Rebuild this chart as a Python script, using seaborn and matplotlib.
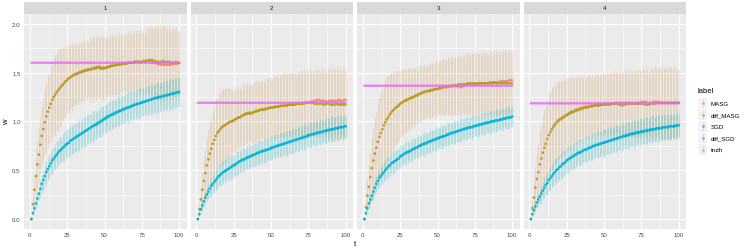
import matplotlib
matplotlib.use("Agg")
import matplotlib.pyplot as plt
import matplotlib.patches as mpatches
import pandas as pd
import seaborn as sns

t = list(range(1, 101))
panels = ["1", "2", "3", "4"]
labels = ["MASG", "diff_MASG", "SGD", "diff_SGD", "truth"]
colors = ["#F8766D", "#A3A500", "#00BF7D", "#00B0F6", "#E76BF3"]
truth = [1.60, 1.19, 1.365, 1.185]

# ---- panel 1 ----
masg_1 = [
    0.00, 0.155, 0.30, 0.44, 0.56, 0.66, 0.76, 0.85, 0.92, 0.99,
    1.05, 1.10, 1.14, 1.18, 1.22, 1.25, 1.28, 1.30, 1.32, 1.34,
    1.36, 1.38, 1.40, 1.41, 1.43, 1.44, 1.45, 1.46, 1.47, 1.48,
    1.49, 1.49, 1.50, 1.51, 1.51, 1.52, 1.52, 1.53, 1.53, 1.53,
    1.54, 1.54, 1.55, 1.55, 1.56, 1.56, 1.56, 1.55, 1.55, 1.55,
    1.55, 1.56, 1.56, 1.57, 1.57, 1.57, 1.58, 1.58, 1.58, 1.59,
    1.59, 1.59, 1.59, 1.59, 1.60, 1.60, 1.60, 1.60, 1.60, 1.61,
    1.61, 1.61, 1.61, 1.60, 1.61, 1.61, 1.61, 1.61, 1.62, 1.62,
    1.61, 1.61, 1.60, 1.60, 1.59, 1.59, 1.58, 1.58, 1.58, 1.58,
    1.58, 1.58, 1.58, 1.58, 1.58, 1.59, 1.59, 1.59, 1.59, 1.60]
diff_masg_1 = [
    0.00, 0.15, 0.30, 0.44, 0.56, 0.66, 0.76, 0.85, 0.92, 0.99,
    1.05, 1.10, 1.14, 1.18, 1.22, 1.25, 1.27, 1.30, 1.32, 1.34,
    1.36, 1.37, 1.39, 1.41, 1.42, 1.44, 1.45, 1.46, 1.47, 1.48,
    1.48, 1.49, 1.50, 1.50, 1.51, 1.51, 1.52, 1.52, 1.53, 1.53,
    1.53, 1.54, 1.54, 1.54, 1.55, 1.55, 1.54, 1.54, 1.54, 1.54,
    1.55, 1.55, 1.56, 1.56, 1.57, 1.57, 1.57, 1.58, 1.58, 1.58,
    1.58, 1.59, 1.59, 1.59, 1.59, 1.60, 1.60, 1.60, 1.60, 1.61,
    1.61, 1.61, 1.61, 1.61, 1.61, 1.62, 1.62, 1.62, 1.62, 1.63,
    1.63, 1.63, 1.62, 1.62, 1.61, 1.61, 1.61, 1.61, 1.62, 1.61,
    1.61, 1.61, 1.61, 1.61, 1.60, 1.60, 1.60, 1.61, 1.60, 1.60]
sgd_1 = [
    0.00, 0.06, 0.11, 0.16, 0.21, 0.26, 0.31, 0.36, 0.40, 0.44,
    0.48, 0.51, 0.54, 0.57, 0.60, 0.62, 0.64, 0.66, 0.68, 0.70,
    0.71, 0.73, 0.74, 0.76, 0.77, 0.78, 0.80, 0.81, 0.82, 0.83,
    0.84, 0.85, 0.86, 0.87, 0.88, 0.89, 0.90, 0.91, 0.92, 0.93,
    0.94, 0.95, 0.96, 0.97, 0.98, 0.99, 1.00, 1.01, 1.02, 1.03,
    1.04, 1.05, 1.06, 1.06, 1.07, 1.08, 1.09, 1.09, 1.10, 1.11,
    1.11, 1.12, 1.13, 1.13, 1.14, 1.14, 1.15, 1.16, 1.16, 1.17,
    1.17, 1.18, 1.18, 1.19, 1.19, 1.20, 1.20, 1.21, 1.21, 1.22,
    1.22, 1.23, 1.23, 1.24, 1.24, 1.24, 1.25, 1.25, 1.26, 1.26,
    1.26, 1.27, 1.27, 1.28, 1.28, 1.28, 1.29, 1.29, 1.30, 1.30]
diff_sgd_1 = [
    0.00, 0.06, 0.11, 0.16, 0.21, 0.26, 0.31, 0.36, 0.40, 0.44,
    0.48, 0.51, 0.54, 0.57, 0.60, 0.62, 0.64, 0.66, 0.68, 0.70,
    0.71, 0.73, 0.74, 0.76, 0.77, 0.78, 0.80, 0.81, 0.82, 0.83,
    0.84, 0.85, 0.86, 0.87, 0.88, 0.89, 0.90, 0.91, 0.92, 0.93,
    0.94, 0.95, 0.96, 0.96, 0.97, 0.98, 0.99, 1.00, 1.01, 1.02,
    1.03, 1.04, 1.05, 1.06, 1.07, 1.07, 1.08, 1.09, 1.10, 1.10,
    1.11, 1.12, 1.12, 1.13, 1.14, 1.14, 1.15, 1.15, 1.16, 1.17,
    1.17, 1.18, 1.18, 1.19, 1.19, 1.20, 1.20, 1.21, 1.21, 1.22,
    1.22, 1.23, 1.23, 1.24, 1.24, 1.25, 1.25, 1.25, 1.26, 1.26,
    1.27, 1.27, 1.27, 1.28, 1.28, 1.29, 1.29, 1.29, 1.30, 1.30]
masg_sd_1 = [
    0.00, 0.08, 0.13, 0.19, 0.24, 0.27, 0.29, 0.31, 0.32, 0.33,
    0.35, 0.37, 0.36, 0.39, 0.38, 0.40, 0.41, 0.39, 0.42, 0.41,
    0.40, 0.38, 0.36, 0.37, 0.33, 0.35, 0.32, 0.34, 0.31, 0.33,
    0.30, 0.32, 0.29, 0.31, 0.30, 0.32, 0.28, 0.31, 0.29, 0.33,
    0.30, 0.34, 0.31, 0.33, 0.29, 0.32, 0.30, 0.34, 0.31, 0.33,
    0.29, 0.31, 0.28, 0.32, 0.30, 0.33, 0.29, 0.31, 0.30, 0.32,
    0.28, 0.30, 0.27, 0.31, 0.29, 0.33, 0.30, 0.32, 0.28, 0.31,
    0.29, 0.33, 0.31, 0.34, 0.30, 0.33, 0.29, 0.32, 0.35, 0.33,
    0.36, 0.34, 0.37, 0.35, 0.38, 0.36, 0.39, 0.37, 0.40, 0.38,
    0.36, 0.37, 0.35, 0.38, 0.34, 0.37, 0.35, 0.36, 0.34, 0.33]
sgd_sd_1 = [
    0.00, 0.02, 0.04, 0.05, 0.06, 0.07, 0.08, 0.09, 0.10, 0.10,
    0.11, 0.11, 0.12, 0.12, 0.13, 0.12, 0.13, 0.14, 0.13, 0.14,
    0.13, 0.14, 0.15, 0.14, 0.15, 0.14, 0.15, 0.14, 0.15, 0.14,
    0.15, 0.14, 0.16, 0.14, 0.15, 0.14, 0.16, 0.15, 0.14, 0.15,
    0.14, 0.16, 0.15, 0.14, 0.15, 0.14, 0.16, 0.15, 0.14, 0.15,
    0.14, 0.15, 0.14, 0.16, 0.15, 0.14, 0.15, 0.14, 0.16, 0.15,
    0.14, 0.15, 0.14, 0.15, 0.14, 0.16, 0.15, 0.14, 0.15, 0.14,
    0.15, 0.14, 0.16, 0.15, 0.14, 0.15, 0.14, 0.15, 0.16, 0.14,
    0.15, 0.14, 0.15, 0.14, 0.16, 0.15, 0.14, 0.15, 0.14, 0.15,
    0.14, 0.15, 0.14, 0.16, 0.15, 0.14, 0.15, 0.14, 0.15, 0.14]

# ---- panel 2 ----
masg_2 = [
    0.00, 0.10, 0.20, 0.30, 0.39, 0.47, 0.55, 0.61, 0.67, 0.72,
    0.77, 0.81, 0.85, 0.88, 0.90, 0.92, 0.94, 0.95, 0.96, 0.97,
    0.98, 0.99, 1.00, 1.00, 1.01, 1.02, 1.03, 1.04, 1.04, 1.05,
    1.06, 1.07, 1.07, 1.08, 1.09, 1.09, 1.09, 1.09, 1.10, 1.10,
    1.11, 1.11, 1.12, 1.12, 1.12, 1.13, 1.13, 1.13, 1.14, 1.14,
    1.14, 1.15, 1.15, 1.15, 1.15, 1.16, 1.16, 1.16, 1.16, 1.17,
    1.17, 1.17, 1.17, 1.17, 1.18, 1.18, 1.18, 1.18, 1.18, 1.18,
    1.19, 1.19, 1.19, 1.19, 1.19, 1.20, 1.20, 1.20, 1.21, 1.21,
    1.22, 1.22, 1.21, 1.21, 1.21, 1.21, 1.20, 1.20, 1.21, 1.21,
    1.21, 1.21, 1.21, 1.21, 1.22, 1.22, 1.21, 1.21, 1.22, 1.22]
diff_masg_2 = [
    0.00, 0.10, 0.20, 0.30, 0.39, 0.47, 0.55, 0.61, 0.67, 0.72,
    0.77, 0.81, 0.85, 0.88, 0.90, 0.92, 0.94, 0.95, 0.96, 0.97,
    0.98, 0.99, 1.00, 1.00, 1.01, 1.02, 1.03, 1.04, 1.04, 1.05,
    1.06, 1.07, 1.08, 1.08, 1.08, 1.08, 1.08, 1.09, 1.10, 1.10,
    1.11, 1.11, 1.12, 1.12, 1.12, 1.12, 1.13, 1.13, 1.14, 1.14,
    1.14, 1.14, 1.15, 1.15, 1.15, 1.15, 1.16, 1.16, 1.16, 1.16,
    1.16, 1.17, 1.17, 1.17, 1.17, 1.17, 1.18, 1.18, 1.18, 1.18,
    1.18, 1.18, 1.19, 1.19, 1.19, 1.19, 1.19, 1.19, 1.18, 1.18,
    1.18, 1.18, 1.18, 1.18, 1.17, 1.17, 1.18, 1.18, 1.18, 1.17,
    1.17, 1.17, 1.17, 1.18, 1.17, 1.17, 1.17, 1.17, 1.17, 1.17]
sgd_2 = [
    0.00, 0.05, 0.10, 0.14, 0.18, 0.22, 0.25, 0.28, 0.31, 0.34,
    0.36, 0.38, 0.40, 0.42, 0.44, 0.45, 0.47, 0.48, 0.49, 0.50,
    0.51, 0.52, 0.53, 0.54, 0.55, 0.56, 0.57, 0.58, 0.59, 0.60,
    0.61, 0.61, 0.62, 0.63, 0.64, 0.64, 0.65, 0.66, 0.66, 0.67,
    0.68, 0.68, 0.69, 0.69, 0.70, 0.70, 0.71, 0.71, 0.72, 0.73,
    0.73, 0.74, 0.74, 0.75, 0.75, 0.76, 0.76, 0.77, 0.77, 0.78,
    0.78, 0.79, 0.79, 0.80, 0.80, 0.81, 0.81, 0.82, 0.82, 0.83,
    0.83, 0.84, 0.84, 0.85, 0.86, 0.86, 0.87, 0.87, 0.87, 0.88,
    0.88, 0.89, 0.89, 0.89, 0.90, 0.90, 0.91, 0.91, 0.91, 0.92,
    0.92, 0.92, 0.93, 0.93, 0.93, 0.94, 0.94, 0.94, 0.95, 0.95]
diff_sgd_2 = [
    0.00, 0.05, 0.10, 0.14, 0.18, 0.22, 0.25, 0.28, 0.31, 0.34,
    0.36, 0.38, 0.40, 0.42, 0.44, 0.45, 0.47, 0.48, 0.49, 0.50,
    0.51, 0.52, 0.53, 0.54, 0.55, 0.56, 0.57, 0.58, 0.59, 0.60,
    0.60, 0.61, 0.62, 0.63, 0.63, 0.64, 0.65, 0.65, 0.66, 0.67,
    0.67, 0.68, 0.69, 0.69, 0.70, 0.70, 0.71, 0.71, 0.72, 0.72,
    0.73, 0.74, 0.74, 0.75, 0.75, 0.76, 0.76, 0.77, 0.77, 0.78,
    0.78, 0.79, 0.79, 0.80, 0.80, 0.81, 0.81, 0.82, 0.82, 0.83,
    0.83, 0.84, 0.84, 0.85, 0.85, 0.86, 0.86, 0.87, 0.87, 0.88,
    0.88, 0.88, 0.89, 0.89, 0.90, 0.90, 0.90, 0.91, 0.91, 0.92,
    0.92, 0.92, 0.93, 0.93, 0.93, 0.94, 0.94, 0.94, 0.95, 0.95]
masg_sd_2 = [
    0.00, 0.07, 0.13, 0.18, 0.22, 0.25, 0.28, 0.30, 0.31, 0.32,
    0.34, 0.35, 0.37, 0.36, 0.38, 0.37, 0.39, 0.38, 0.37, 0.38,
    0.36, 0.35, 0.33, 0.32, 0.31, 0.33, 0.30, 0.32, 0.29, 0.31,
    0.30, 0.32, 0.29, 0.31, 0.28, 0.30, 0.29, 0.31, 0.30, 0.32,
    0.29, 0.31, 0.28, 0.30, 0.29, 0.31, 0.30, 0.32, 0.29, 0.31,
    0.30, 0.32, 0.31, 0.33, 0.30, 0.32, 0.31, 0.33, 0.32, 0.34,
    0.31, 0.33, 0.32, 0.34, 0.31, 0.33, 0.30, 0.33, 0.32, 0.35,
    0.33, 0.35, 0.32, 0.34, 0.33, 0.35, 0.32, 0.34, 0.33, 0.36,
    0.34, 0.35, 0.33, 0.36, 0.34, 0.35, 0.33, 0.36, 0.34, 0.37,
    0.35, 0.36, 0.34, 0.37, 0.35, 0.36, 0.34, 0.37, 0.35, 0.36]
sgd_sd_2 = [
    0.00, 0.02, 0.03, 0.04, 0.05, 0.06, 0.07, 0.08, 0.08, 0.09,
    0.09, 0.10, 0.10, 0.11, 0.10, 0.11, 0.12, 0.11, 0.12, 0.11,
    0.12, 0.11, 0.13, 0.12, 0.11, 0.12, 0.13, 0.12, 0.11, 0.12,
    0.13, 0.12, 0.11, 0.12, 0.13, 0.12, 0.11, 0.13, 0.12, 0.11,
    0.12, 0.13, 0.12, 0.11, 0.12, 0.13, 0.12, 0.11, 0.12, 0.13,
    0.12, 0.11, 0.13, 0.12, 0.11, 0.12, 0.13, 0.12, 0.11, 0.12,
    0.13, 0.12, 0.11, 0.12, 0.13, 0.12, 0.11, 0.13, 0.12, 0.11,
    0.12, 0.13, 0.12, 0.11, 0.12, 0.13, 0.12, 0.11, 0.12, 0.13,
    0.12, 0.11, 0.13, 0.12, 0.11, 0.12, 0.13, 0.12, 0.11, 0.12,
    0.13, 0.12, 0.11, 0.12, 0.13, 0.12, 0.11, 0.13, 0.12, 0.12]

# ---- panel 3 ----
masg_3 = [
    0.00, 0.12, 0.24, 0.33, 0.43, 0.52, 0.60, 0.67, 0.73, 0.79,
    0.84, 0.88, 0.92, 0.96, 0.99, 1.02, 1.04, 1.07, 1.09, 1.11,
    1.13, 1.14, 1.15, 1.17, 1.18, 1.19, 1.20, 1.21, 1.22, 1.23,
    1.23, 1.24, 1.25, 1.25, 1.26, 1.27, 1.28, 1.28, 1.29, 1.30,
    1.30, 1.31, 1.31, 1.31, 1.32, 1.32, 1.32, 1.33, 1.33, 1.33,
    1.34, 1.34, 1.34, 1.35, 1.35, 1.35, 1.35, 1.36, 1.36, 1.36,
    1.36, 1.36, 1.36, 1.36, 1.35, 1.35, 1.36, 1.37, 1.37, 1.38,
    1.38, 1.38, 1.38, 1.38, 1.38, 1.38, 1.38, 1.39, 1.39, 1.39,
    1.39, 1.39, 1.39, 1.39, 1.40, 1.40, 1.40, 1.40, 1.40, 1.40,
    1.40, 1.41, 1.41, 1.41, 1.41, 1.41, 1.41, 1.42, 1.42, 1.42]
diff_masg_3 = [
    0.00, 0.12, 0.24, 0.33, 0.43, 0.52, 0.60, 0.67, 0.73, 0.79,
    0.84, 0.88, 0.92, 0.96, 0.99, 1.02, 1.04, 1.07, 1.09, 1.11,
    1.12, 1.14, 1.15, 1.16, 1.18, 1.19, 1.20, 1.21, 1.21, 1.22,
    1.23, 1.24, 1.24, 1.25, 1.26, 1.26, 1.27, 1.28, 1.29, 1.29,
    1.30, 1.30, 1.31, 1.31, 1.31, 1.32, 1.32, 1.33, 1.33, 1.33,
    1.34, 1.34, 1.35, 1.35, 1.35, 1.36, 1.36, 1.36, 1.36, 1.37,
    1.37, 1.37, 1.37, 1.38, 1.38, 1.38, 1.38, 1.38, 1.38, 1.39,
    1.39, 1.39, 1.39, 1.39, 1.39, 1.39, 1.39, 1.39, 1.39, 1.39,
    1.39, 1.39, 1.39, 1.39, 1.39, 1.39, 1.39, 1.40, 1.39, 1.39,
    1.39, 1.39, 1.39, 1.39, 1.39, 1.39, 1.39, 1.39, 1.39, 1.39]
sgd_3 = [
    0.00, 0.06, 0.11, 0.16, 0.20, 0.24, 0.28, 0.32, 0.36, 0.39,
    0.42, 0.44, 0.46, 0.48, 0.50, 0.52, 0.54, 0.55, 0.57, 0.58,
    0.59, 0.60, 0.61, 0.62, 0.64, 0.65, 0.66, 0.67, 0.68, 0.69,
    0.69, 0.70, 0.71, 0.72, 0.73, 0.73, 0.74, 0.75, 0.76, 0.77,
    0.77, 0.78, 0.78, 0.79, 0.80, 0.80, 0.81, 0.81, 0.82, 0.83,
    0.83, 0.84, 0.84, 0.85, 0.85, 0.86, 0.87, 0.87, 0.88, 0.88,
    0.89, 0.89, 0.90, 0.90, 0.91, 0.91, 0.92, 0.92, 0.93, 0.93,
    0.94, 0.94, 0.94, 0.95, 0.95, 0.96, 0.96, 0.97, 0.97, 0.97,
    0.98, 0.98, 0.99, 0.99, 0.99, 1.00, 1.00, 1.00, 1.01, 1.01,
    1.01, 1.02, 1.02, 1.03, 1.03, 1.03, 1.04, 1.04, 1.04, 1.05]
diff_sgd_3 = [
    0.00, 0.06, 0.11, 0.16, 0.20, 0.24, 0.28, 0.32, 0.36, 0.39,
    0.42, 0.44, 0.46, 0.48, 0.50, 0.52, 0.54, 0.55, 0.57, 0.58,
    0.59, 0.60, 0.61, 0.62, 0.64, 0.65, 0.66, 0.67, 0.68, 0.68,
    0.69, 0.70, 0.71, 0.72, 0.72, 0.73, 0.74, 0.75, 0.75, 0.76,
    0.77, 0.77, 0.78, 0.79, 0.79, 0.80, 0.81, 0.81, 0.82, 0.82,
    0.83, 0.84, 0.84, 0.85, 0.85, 0.86, 0.86, 0.87, 0.88, 0.88,
    0.89, 0.89, 0.90, 0.90, 0.91, 0.91, 0.92, 0.92, 0.93, 0.93,
    0.93, 0.94, 0.94, 0.95, 0.95, 0.96, 0.96, 0.96, 0.97, 0.97,
    0.98, 0.98, 0.98, 0.99, 0.99, 1.00, 1.00, 1.00, 1.01, 1.01,
    1.01, 1.02, 1.02, 1.02, 1.03, 1.03, 1.04, 1.04, 1.04, 1.05]
masg_sd_3 = [
    0.00, 0.09, 0.16, 0.22, 0.27, 0.31, 0.34, 0.36, 0.38, 0.40,
    0.41, 0.42, 0.43, 0.42, 0.44, 0.43, 0.42, 0.41, 0.42, 0.40,
    0.39, 0.38, 0.37, 0.36, 0.35, 0.34, 0.34, 0.33, 0.32, 0.33,
    0.31, 0.32, 0.30, 0.31, 0.29, 0.30, 0.28, 0.30, 0.29, 0.28,
    0.29, 0.27, 0.28, 0.27, 0.29, 0.28, 0.27, 0.28, 0.29, 0.27,
    0.28, 0.29, 0.28, 0.30, 0.29, 0.28, 0.30, 0.29, 0.31, 0.30,
    0.29, 0.31, 0.30, 0.32, 0.30, 0.31, 0.29, 0.31, 0.30, 0.32,
    0.31, 0.30, 0.32, 0.31, 0.33, 0.31, 0.32, 0.30, 0.32, 0.31,
    0.33, 0.31, 0.32, 0.30, 0.33, 0.32, 0.31, 0.33, 0.32, 0.34,
    0.32, 0.33, 0.31, 0.34, 0.32, 0.33, 0.31, 0.33, 0.32, 0.31]
sgd_sd_3 = [
    0.00, 0.02, 0.03, 0.04, 0.05, 0.06, 0.07, 0.07, 0.08, 0.08,
    0.09, 0.09, 0.10, 0.09, 0.10, 0.11, 0.10, 0.11, 0.10, 0.11,
    0.12, 0.11, 0.10, 0.11, 0.12, 0.11, 0.10, 0.11, 0.12, 0.11,
    0.10, 0.11, 0.12, 0.11, 0.10, 0.11, 0.12, 0.11, 0.10, 0.11,
    0.12, 0.11, 0.10, 0.11, 0.12, 0.11, 0.10, 0.11, 0.12, 0.11,
    0.10, 0.11, 0.12, 0.11, 0.10, 0.11, 0.12, 0.11, 0.10, 0.11,
    0.12, 0.11, 0.10, 0.11, 0.12, 0.11, 0.10, 0.11, 0.12, 0.11,
    0.10, 0.11, 0.12, 0.11, 0.10, 0.11, 0.12, 0.11, 0.10, 0.11,
    0.12, 0.11, 0.10, 0.11, 0.12, 0.11, 0.10, 0.11, 0.12, 0.11,
    0.10, 0.11, 0.12, 0.11, 0.10, 0.11, 0.12, 0.11, 0.10, 0.11]

# ---- panel 4 ----
masg_4 = [
    0.00, 0.11, 0.22, 0.32, 0.41, 0.48, 0.56, 0.62, 0.68, 0.73,
    0.77, 0.82, 0.86, 0.89, 0.92, 0.95, 0.97, 0.99, 1.01, 1.02,
    1.03, 1.04, 1.05, 1.06, 1.07, 1.08, 1.09, 1.10, 1.10, 1.11,
    1.12, 1.12, 1.13, 1.13, 1.14, 1.14, 1.15, 1.15, 1.15, 1.16,
    1.16, 1.16, 1.16, 1.17, 1.17, 1.17, 1.17, 1.17, 1.17, 1.18,
    1.18, 1.18, 1.18, 1.18, 1.18, 1.18, 1.19, 1.19, 1.19, 1.19,
    1.19, 1.19, 1.19, 1.19, 1.19, 1.19, 1.19, 1.19, 1.19, 1.19,
    1.19, 1.19, 1.19, 1.19, 1.20, 1.20, 1.20, 1.20, 1.19, 1.19,
    1.19, 1.19, 1.20, 1.20, 1.20, 1.20, 1.20, 1.19, 1.19, 1.19,
    1.19, 1.19, 1.19, 1.19, 1.19, 1.19, 1.19, 1.19, 1.19, 1.19]
diff_masg_4 = [
    0.00, 0.11, 0.22, 0.32, 0.41, 0.48, 0.56, 0.62, 0.68, 0.73,
    0.77, 0.82, 0.86, 0.89, 0.92, 0.94, 0.96, 0.98, 1.00, 1.01,
    1.02, 1.03, 1.04, 1.05, 1.06, 1.07, 1.08, 1.09, 1.09, 1.10,
    1.11, 1.11, 1.12, 1.12, 1.13, 1.13, 1.14, 1.14, 1.14, 1.15,
    1.15, 1.15, 1.16, 1.16, 1.16, 1.16, 1.16, 1.17, 1.17, 1.17,
    1.17, 1.17, 1.17, 1.17, 1.18, 1.18, 1.18, 1.18, 1.18, 1.17,
    1.17, 1.16, 1.17, 1.17, 1.18, 1.18, 1.18, 1.18, 1.18, 1.18,
    1.18, 1.18, 1.18, 1.18, 1.18, 1.18, 1.18, 1.17, 1.17, 1.17,
    1.18, 1.18, 1.18, 1.18, 1.19, 1.19, 1.19, 1.19, 1.19, 1.19,
    1.19, 1.19, 1.19, 1.19, 1.19, 1.19, 1.19, 1.19, 1.19, 1.19]
sgd_4 = [
    0.00, 0.05, 0.09, 0.13, 0.17, 0.20, 0.23, 0.26, 0.29, 0.32,
    0.35, 0.37, 0.40, 0.42, 0.44, 0.46, 0.48, 0.50, 0.51, 0.53,
    0.54, 0.56, 0.57, 0.58, 0.60, 0.61, 0.62, 0.63, 0.64, 0.65,
    0.66, 0.67, 0.68, 0.68, 0.69, 0.70, 0.71, 0.71, 0.72, 0.73,
    0.73, 0.74, 0.75, 0.75, 0.76, 0.76, 0.77, 0.77, 0.78, 0.78,
    0.79, 0.79, 0.80, 0.80, 0.81, 0.81, 0.82, 0.82, 0.83, 0.83,
    0.84, 0.84, 0.85, 0.85, 0.85, 0.86, 0.86, 0.87, 0.87, 0.87,
    0.88, 0.88, 0.88, 0.89, 0.89, 0.89, 0.90, 0.90, 0.90, 0.91,
    0.91, 0.91, 0.92, 0.92, 0.92, 0.93, 0.93, 0.93, 0.93, 0.94,
    0.94, 0.94, 0.94, 0.95, 0.95, 0.95, 0.95, 0.95, 0.96, 0.96]
diff_sgd_4 = [
    0.00, 0.05, 0.09, 0.13, 0.17, 0.20, 0.23, 0.26, 0.29, 0.32,
    0.35, 0.37, 0.40, 0.42, 0.44, 0.46, 0.48, 0.50, 0.51, 0.53,
    0.54, 0.56, 0.57, 0.58, 0.60, 0.61, 0.62, 0.63, 0.64, 0.65,
    0.66, 0.67, 0.68, 0.68, 0.69, 0.70, 0.71, 0.71, 0.72, 0.73,
    0.73, 0.74, 0.75, 0.75, 0.76, 0.76, 0.77, 0.77, 0.78, 0.78,
    0.79, 0.79, 0.80, 0.80, 0.81, 0.81, 0.82, 0.82, 0.83, 0.83,
    0.84, 0.84, 0.85, 0.85, 0.86, 0.86, 0.87, 0.87, 0.88, 0.88,
    0.88, 0.89, 0.89, 0.89, 0.90, 0.90, 0.90, 0.91, 0.91, 0.91,
    0.92, 0.92, 0.92, 0.92, 0.93, 0.93, 0.93, 0.93, 0.94, 0.94,
    0.94, 0.94, 0.95, 0.95, 0.95, 0.95, 0.95, 0.96, 0.96, 0.96]
masg_sd_4 = [
    0.00, 0.08, 0.15, 0.21, 0.26, 0.30, 0.33, 0.35, 0.37, 0.39,
    0.40, 0.41, 0.42, 0.41, 0.42, 0.41, 0.40, 0.41, 0.40, 0.39,
    0.40, 0.38, 0.39, 0.37, 0.38, 0.36, 0.37, 0.35, 0.36, 0.34,
    0.35, 0.33, 0.34, 0.32, 0.33, 0.31, 0.32, 0.30, 0.32, 0.31,
    0.30, 0.32, 0.31, 0.30, 0.32, 0.31, 0.30, 0.31, 0.32, 0.30,
    0.31, 0.33, 0.32, 0.31, 0.33, 0.32, 0.34, 0.32, 0.33, 0.31,
    0.33, 0.34, 0.32, 0.35, 0.33, 0.34, 0.32, 0.35, 0.34, 0.33,
    0.35, 0.34, 0.36, 0.35, 0.34, 0.36, 0.35, 0.37, 0.35, 0.36,
    0.34, 0.37, 0.35, 0.38, 0.36, 0.35, 0.37, 0.36, 0.38, 0.37,
    0.35, 0.37, 0.36, 0.38, 0.36, 0.35, 0.37, 0.36, 0.34, 0.35]
sgd_sd_4 = [
    0.00, 0.02, 0.04, 0.05, 0.06, 0.07, 0.08, 0.09, 0.09, 0.10,
    0.10, 0.11, 0.11, 0.12, 0.11, 0.12, 0.13, 0.12, 0.13, 0.12,
    0.13, 0.14, 0.13, 0.12, 0.13, 0.14, 0.13, 0.12, 0.13, 0.14,
    0.13, 0.12, 0.13, 0.14, 0.13, 0.12, 0.13, 0.14, 0.13, 0.12,
    0.13, 0.14, 0.13, 0.12, 0.13, 0.14, 0.13, 0.12, 0.13, 0.14,
    0.13, 0.12, 0.13, 0.14, 0.13, 0.12, 0.13, 0.14, 0.13, 0.12,
    0.13, 0.14, 0.13, 0.12, 0.13, 0.14, 0.13, 0.12, 0.13, 0.14,
    0.13, 0.12, 0.13, 0.14, 0.13, 0.12, 0.13, 0.14, 0.13, 0.12,
    0.13, 0.14, 0.13, 0.12, 0.13, 0.14, 0.13, 0.12, 0.13, 0.14,
    0.13, 0.12, 0.13, 0.14, 0.13, 0.12, 0.13, 0.14, 0.13, 0.13]

series = {
    "1": (masg_1, diff_masg_1, sgd_1, diff_sgd_1, masg_sd_1, sgd_sd_1),
    "2": (masg_2, diff_masg_2, sgd_2, diff_sgd_2, masg_sd_2, sgd_sd_2),
    "3": (masg_3, diff_masg_3, sgd_3, diff_sgd_3, masg_sd_3, sgd_sd_3),
    "4": (masg_4, diff_masg_4, sgd_4, diff_sgd_4, masg_sd_4, sgd_sd_4),
}

rows = []
for p, tr in zip(panels, truth):
    m, dm, s, ds, msd, ssd = series[p]
    cols = {"MASG": (m, msd), "diff_MASG": (dm, msd), "SGD": (s, ssd),
            "diff_SGD": (ds, ssd), "truth": ([tr] * len(t), [0.0] * len(t))}
    for lab in labels:
        w, sd = cols[lab]
        for ti, wi, si in zip(t, w, sd):
            rows.append({"panel": p, "label": lab, "t": ti, "w": wi, "sd": si})
df = pd.DataFrame(rows)

sns.set_theme(style="darkgrid")
plt.rcParams["font.family"] = ["Liberation Sans", "DejaVu Sans"]

W, H = 747, 251
fig = plt.figure(figsize=(W / 100, H / 100), dpi=100)
fig.patch.set_facecolor("white")
palette = dict(zip(labels, colors))
bar_alpha = {"MASG": 0.11, "diff_MASG": 0.11, "SGD": 0.13, "diff_SGD": 0.13}

panel_w = 162.5
lefts = [24, 190.5, 357, 523.5]
top, bottom, strip_top = 15, 230, 3
fs = 4.4

for i, p in enumerate(panels):
    x0 = lefts[i]
    ax = fig.add_axes([x0 / W, 1 - bottom / H, panel_w / W, (bottom - top) / H])
    ax.set_facecolor("#EBEBEB")
    sub = df[df["panel"] == p]
    for lab in ["MASG", "diff_MASG", "SGD", "diff_SGD"]:
        d = sub[sub["label"] == lab]
        ax.vlines(d["t"], d["w"] - d["sd"], d["w"] + d["sd"], colors=palette[lab],
                  alpha=bar_alpha[lab], linewidth=0.75, zorder=2)
    sns.scatterplot(data=sub, x="t", y="w", hue="label", hue_order=labels,
                    palette=palette, s=3.4, linewidth=0, alpha=0.7,
                    legend=False, ax=ax, zorder=3)
    ax.set_xlim(-3.95, 104.95)
    ax.set_ylim(-0.102, 2.099)
    ax.set_xticks([0, 25, 50, 75, 100])
    ax.set_xticks([12.5, 37.5, 62.5, 87.5], minor=True)
    ax.set_yticks([0.0, 0.5, 1.0, 1.5, 2.0])
    ax.set_yticks([0.25, 0.75, 1.25, 1.75], minor=True)
    ax.grid(which="major", color="white", linewidth=0.8)
    ax.grid(which="minor", color="white", linewidth=0.4)
    ax.set_axisbelow(True)
    for sp in ax.spines.values():
        sp.set_visible(False)
    ax.tick_params(which="major", length=1.6, width=0.5, color="#333333",
                   labelsize=fs, labelcolor="#4D4D4D", pad=0.8)
    ax.tick_params(which="minor", length=0)
    if i == 0:
        ax.set_yticklabels(["0.0", "0.5", "1.0", "1.5", "2.0"])
    else:
        ax.tick_params(axis="y", which="major", length=0, labelleft=False)
    ax.set_xlabel("")
    ax.set_ylabel("")

    sax = fig.add_axes([x0 / W, 1 - top / H, panel_w / W, (top - strip_top) / H])
    sax.set_facecolor("#D9D9D9")
    sax.set_xticks([])
    sax.set_yticks([])
    for sp in sax.spines.values():
        sp.set_visible(False)
    sax.text(0.5, 0.5, p, ha="center", va="center", fontsize=fs, color="#1A1A1A",
             transform=sax.transAxes)

fig.text(7 / W, 1 - 122.5 / H, "w", rotation=90, ha="center", va="center",
         fontsize=5.5, color="black")
fig.text(355 / W, 1 - 245 / H, "t", ha="center", va="center",
         fontsize=5.5, color="black")

# legend
lax = fig.add_axes([690 / W, 1 - 160 / H, 57 / W, 75 / H])
lax.set_xlim(690, 747)
lax.set_ylim(160, 85)
lax.axis("off")
lax.text(697.5, 92, "label", ha="left", va="center", fontsize=5.5, color="black")
for k, (lab, col) in enumerate(zip(labels, colors)):
    yc = 104 + 11.65 * k
    lax.add_patch(mpatches.Rectangle((697.8, yc - 5.4), 9.4, 10.8,
                                     facecolor="#F2F2F2", edgecolor="none"))
    lax.vlines(702.5, yc - 4.5, yc + 4.5, colors=col, alpha=0.2, linewidth=0.9)
    lax.scatter([702.5], [yc], s=3.4, color=col, alpha=0.7, linewidth=0)
    lax.text(710.5, yc, lab, ha="left", va="center", fontsize=fs, color="black")

fig.savefig("out.png", dpi=100, facecolor="white")
